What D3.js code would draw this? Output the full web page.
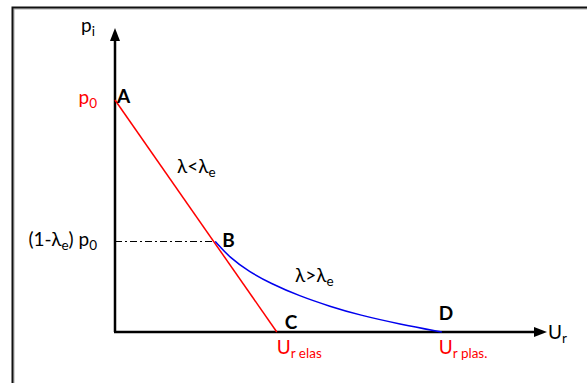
<!DOCTYPE html>
<html>
<head>
<meta charset="utf-8">
<script src="https://cdn.jsdelivr.net/npm/d3@7"></script>
<style>
  body { margin: 0; background: #fff; overflow: hidden; }
  svg { display: block; }
  text { font-family: Lato, "Open Sans", sans-serif; }
</style>
</head>
<body>
<div id="chart"></div>
<script>
// pressure / displacement values (p0 = 1, elastic displacement = 1)
const p0 = 1
const pB = 0.39          // (1 - lambda_e) p0
const urElas = 1
const urPlas = 2.02
const urMax = 2.67

// elastic line A -> C
const elasLine = [[0, p0], [urElas, 0]]
// plastic curve B -> D
const plasCurve = [
	[0.62, 0.39], [0.71, 0.32], [0.83, 0.26], [0.96, 0.21], [1.14, 0.155],
	[1.33, 0.11], [1.51, 0.073], [1.76, 0.034], [2.02, 0]
]

const W = 587, H = 383

const svg = d3.select("#chart")
	.append("svg")
	.attr("width", W)
	.attr("height", H)

// frame: only the left and top edges are inside the picture
svg.append("path")
	.attr("d", `M14,${H} V9 H${W}`)
	.attr("fill", "none").attr("stroke", "#aaa").attr("stroke-width", 1)
svg.append("path")
	.attr("d", `M12.5,${H} V7.5 H${W}`)
	.attr("fill", "none").attr("stroke", "#111").attr("stroke-width", 2)

const x = d3.scaleLinear().domain([0, urMax]).range([115, 547])
const y = d3.scaleLinear().domain([0, p0]).range([332, 100])

// axes
svg.append("line")
	.attr("x1", x(0)).attr("y1", y(0))
	.attr("x2", x(0)).attr("y2", 40)
	.attr("stroke", "black").attr("stroke-width", 2.5)
svg.append("path")
	.attr("d", `M${x(0)},28 L${x(0) - 5},41 L${x(0) + 5},41 Z`)
	.attr("fill", "black")
svg.append("line")
	.attr("x1", x(0) - 1).attr("y1", y(0))
	.attr("x2", x(urMax) - 12).attr("y2", y(0))
	.attr("stroke", "black").attr("stroke-width", 2.5)
svg.append("path")
	.attr("d", `M${x(urMax)},${y(0)} L${x(urMax) - 13},${y(0) - 5} L${x(urMax) - 13},${y(0) + 5} Z`)
	.attr("fill", "black")

// dash-dot reference line at B
svg.append("line")
	.attr("x1", x(0)).attr("y1", y(pB))
	.attr("x2", x(plasCurve[0][0])).attr("y2", y(pB))
	.attr("stroke", "black").attr("stroke-width", 1.2)
	.attr("stroke-dasharray", "7,3,2,3")

const line = d3.line().x(d => x(d[0])).y(d => y(d[1]))

svg.append("path")
	.datum(elasLine)
	.attr("d", line)
	.attr("fill", "none").attr("stroke", "#ff0000").attr("stroke-width", 1.5)

svg.append("path")
	.datum(plasCurve)
	.attr("d", line.curve(d3.curveBasis))
	.attr("fill", "none").attr("stroke", "#0000ee").attr("stroke-width", 1.5)

// text with subscripts: parts = [[text, isSub], ...]
function label(px, py, parts, opts = {}) {
	const t = svg.append("text")
		.attr("x", px).attr("y", py)
		.attr("font-size", opts.size || 19)
		.attr("font-weight", opts.bold ? "bold" : "normal")
		.attr("fill", opts.color || "black")
		.attr("text-anchor", opts.anchor || "start")
	let down = false
	parts.forEach(p => {
		const s = t.append("tspan").text(p[0])
		if (p[1] && !down) { s.attr("dy", 4).attr("font-size", 13.5); down = true }
		else if (p[1]) { s.attr("font-size", 13.5) }
		else if (!p[1] && down) { s.attr("dy", -4); down = false }
	})
	return t
}

label(95, 32, [["p"], ["i", 1]], { anchor: "end" })
label(97, 104, [["p"], ["0", 1]], { anchor: "end", color: "#ff0000" })
label(x(0) + 2, 103, [["A"]], { bold: true })
label(177, 173, [["λ<λ"], ["e", 1]])
label(97, 246, [["(1-λ"], ["e", 1], [") p"], ["0", 1]], { anchor: "end" })
label(x(plasCurve[0][0]) + 7, 247, [["B"]], { bold: true })
label(295, 282, [["λ>λ"], ["e", 1]])
label(x(urElas) + 8, 329, [["C"]], { bold: true })
label(x(urPlas) - 3, 320, [["D"]], { bold: true })
label(x(urElas), 354, [["U"], ["r elas", 1]], { color: "#ff0000" })
label(x(urPlas) - 3, 354, [["U"], ["r plas.", 1]], { color: "#ff0000" })
label(x(urMax) + 1, 339, [["U"], ["r", 1]])
</script>
</body>
</html>
